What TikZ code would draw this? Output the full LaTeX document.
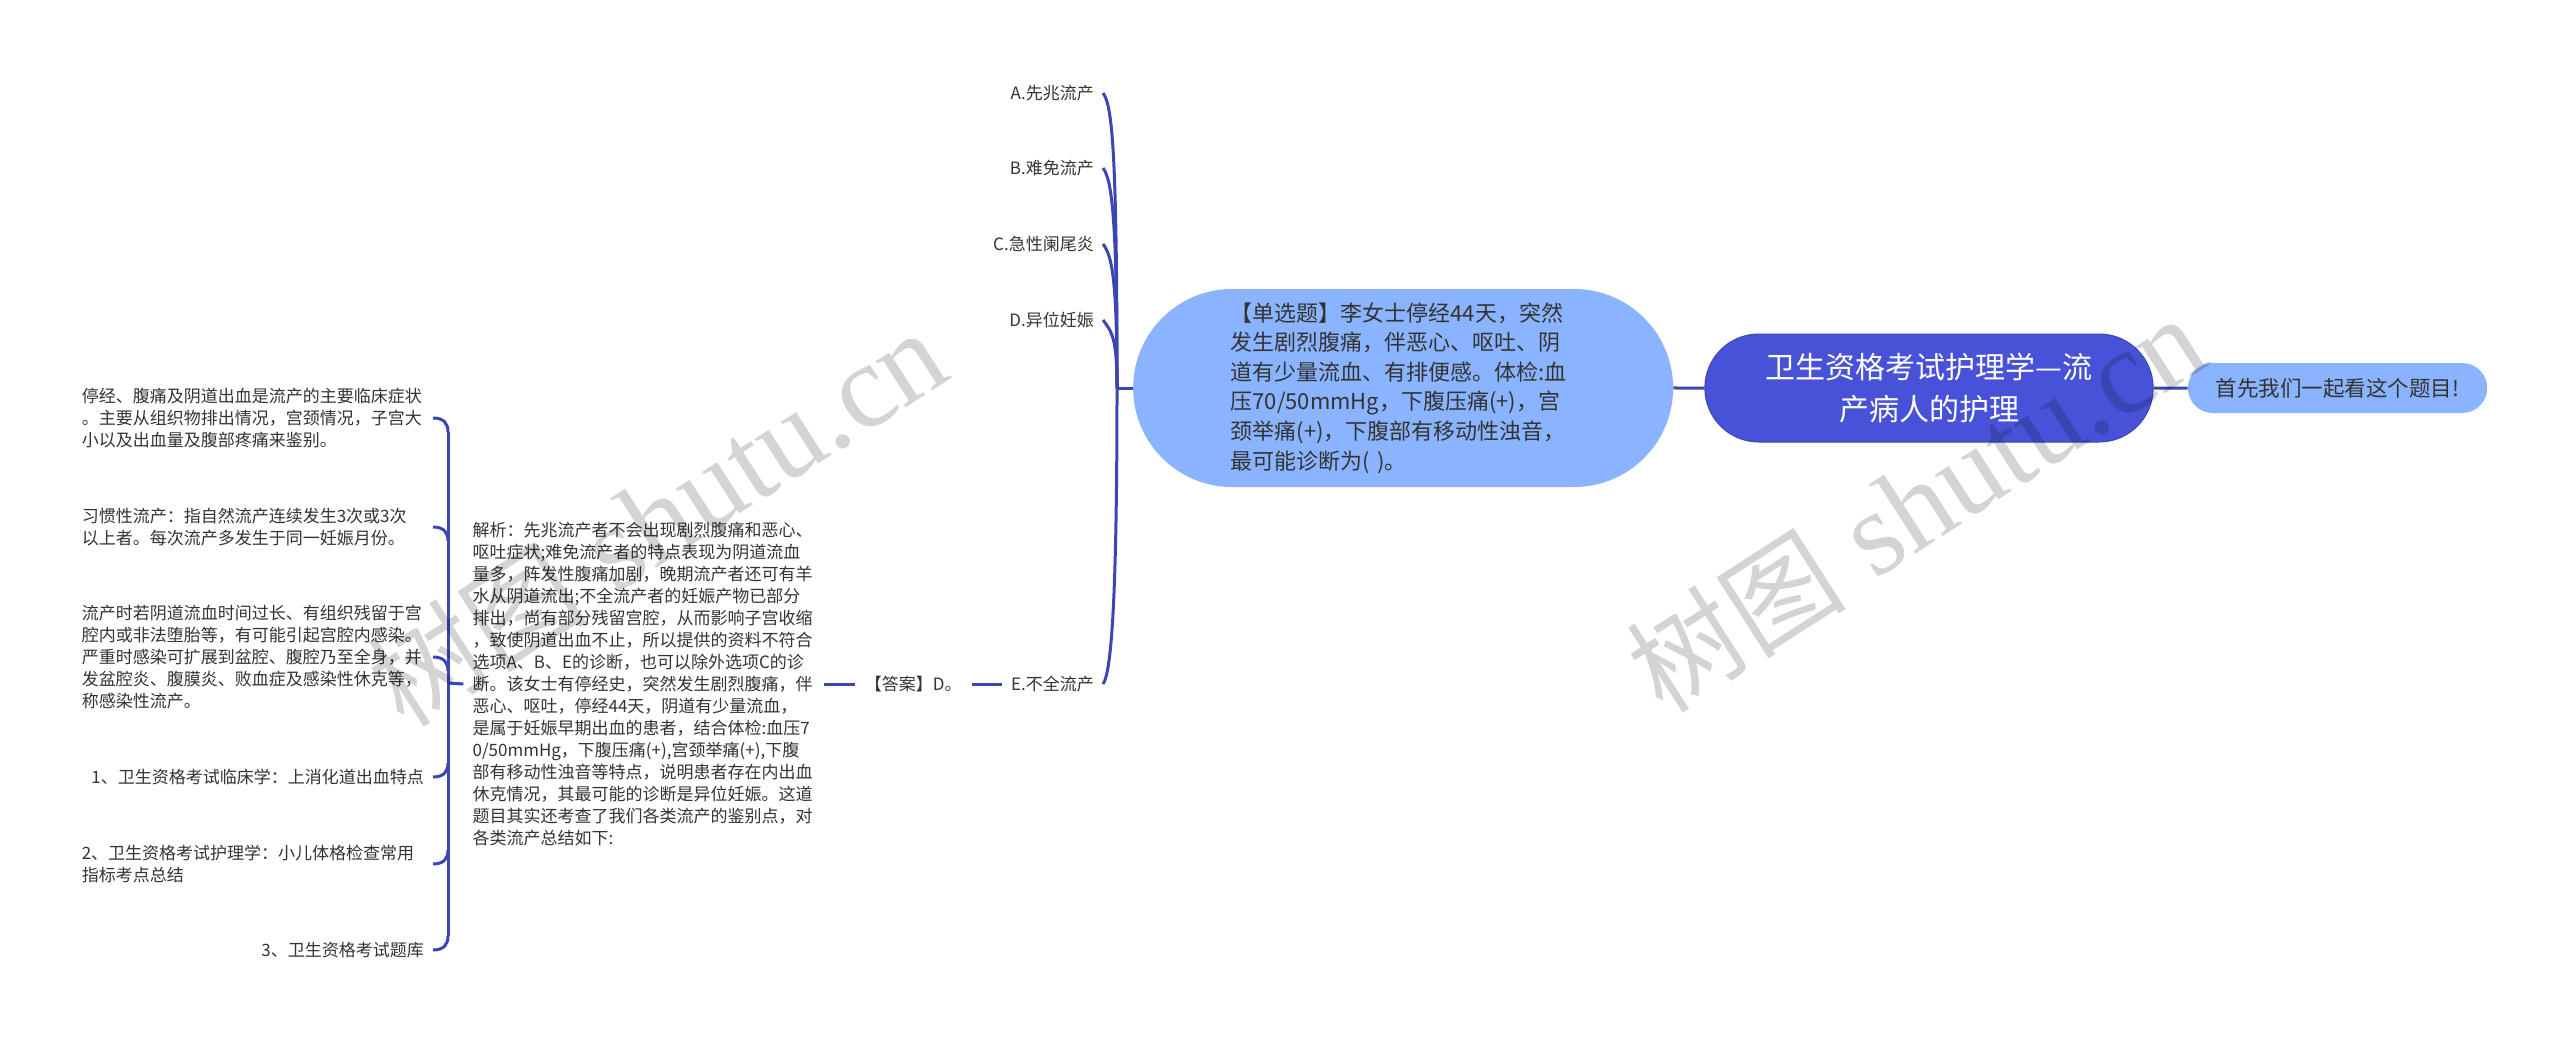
\documentclass[tikz,border=0pt]{standalone}
\usepackage{fontspec}
\setmainfont{Noto Sans CJK SC}
\newfontfamily\markfont{Liberation Serif}
\usetikzlibrary{positioning, calc, shapes.misc}
\definecolor{rootblue}{RGB}{71, 82, 216}
\definecolor{bubbleblue}{RGB}{138, 180, 255}
\definecolor{linkblue}{RGB}{58, 70, 178}
\definecolor{inktext}{RGB}{51, 51, 51}

\begin{document}
\begin{tikzpicture}[
    x=1pt, y=-1pt,
    % 节点样式
    rootbox/.style={
        rounded rectangle, rounded rectangle arc length=180, fill=rootblue, draw=linkblue, line width=1pt,
        minimum width=455pt, minimum height=108pt,
        align=center, text=white, font=\fontsize{30}{42}\selectfont
    },
    tipbox/.style={
        rounded rectangle, rounded rectangle arc length=180, fill=bubbleblue,
        minimum width=306pt, minimum height=50pt,
        align=center, text=inktext, font=\fontsize{21.5}{26}\selectfont
    },
    questionbox/.style={
        rounded rectangle, rounded rectangle arc length=180, fill=bubbleblue,
        minimum width=540pt, minimum height=198pt, inner sep=0pt,
        text width=345pt, align=left, text=inktext, font=\fontsize{22}{29.6}\selectfont
    },
    % 文字节点样式
    leaf/.style={inner xsep=9pt, inner ysep=0pt, text=inktext, font=\fontsize{17}{22}\selectfont},
    note/.style={leaf, anchor=east, align=right},
    widenote/.style={note, text width=342pt, align=left},
    analysis/.style={inner xsep=9pt, inner ysep=0pt, text width=342pt, align=left, text=inktext, font=\fontsize{17}{22}\selectfont},
    % 连线样式
    link/.style={line width=3pt, linkblue},
    watermark/.style={font=\fontsize{120}{120}\markfont, text=black, text opacity=0.17, rotate=32.7},
]
\useasboundingbox (0,0) rectangle (2560,1043);

% ==================== 主干节点 ====================
\node[rootbox] (root) at (1929,388) {卫生资格考试护理学—流\\产病人的护理};
\node[tipbox, right=34pt of root] (tip) {首先我们一起看这个题目!};
\node[questionbox, left=31pt of root] (question) {【单选题】李女士停经44天，突然\\发生剧烈腹痛，伴恶心、呕吐、阴\\道有少量流血、有排便感。体检:血\\压70/50mmHg，下腹压痛(+)，宫\\颈举痛(+)，下腹部有移动性浊音，\\最可能诊断为( )。};

% ==================== 选项 ====================
\node[leaf, anchor=east] (optA) at (1103,93) {A.先兆流产};
\node[leaf, anchor=east] (optB) at (1103,168) {B.难免流产};
\node[leaf, anchor=east] (optC) at (1103,244) {C.急性阑尾炎};
\node[leaf, anchor=east] (optD) at (1103,320) {D.异位妊娠};
\node[leaf, anchor=east] (optE) at (1103,684) {E.不全流产};
\node[leaf, inner xsep=10pt, left=30pt of optE] (answer) {【答案】D。};
\node[analysis, left=31pt of answer] (explain) {解析：先兆流产者不会出现剧烈腹痛和恶心、\\呕吐症状;难免流产者的特点表现为阴道流血\\量多，阵发性腹痛加剧，晚期流产者还可有羊\\水从阴道流出;不全流产者的妊娠产物已部分\\排出，尚有部分残留宫腔，从而影响子宫收缩\\，致使阴道出血不止，所以提供的资料不符合\\选项A、B、E的诊断，也可以除外选项C的诊\\断。该女士有停经史，突然发生剧烈腹痛，伴\\恶心、呕吐，停经44天，阴道有少量流血，\\是属于妊娠早期出血的患者，结合体检:血压7\\0/50mmHg，下腹压痛(+),宫颈举痛(+),下腹\\部有移动性浊音等特点，说明患者存在内出血\\休克情况，其最可能的诊断是异位妊娠。这道\\题目其实还考查了我们各类流产的鉴别点，对\\各类流产总结如下:};

% ==================== 左侧说明 ====================
\node[widenote] (note1) at (433,418) {停经、腹痛及阴道出血是流产的主要临床症状\\。主要从组织物排出情况，宫颈情况，子宫大\\小以及出血量及腹部疼痛来鉴别。};
\node[widenote] (note2) at (433,527) {习惯性流产：指自然流产连续发生3次或3次\\以上者。每次流产多发生于同一妊娠月份。};
\node[widenote] (note3) at (433,657) {流产时若阴道流血时间过长、有组织残留于宫\\腔内或非法堕胎等，有可能引起宫腔内感染。\\严重时感染可扩展到盆腔、腹腔乃至全身，并\\发盆腔炎、腹膜炎、败血症及感染性休克等，\\称感染性流产。};
\node[note] (note4) at (433,777) {1、卫生资格考试临床学：上消化道出血特点};
\node[widenote] (note5) at (433,864) {2、卫生资格考试护理学：小儿体格检查常用\\指标考点总结};
\node[note] (note6) at (433,950) {3、卫生资格考试题库};

\coordinate (hub) at (1117,388);
\coordinate (spine) at (448,683);

% ==================== 连线 ====================
\draw[link] (root) -- (tip);
\draw[link] (question) -- (root);
\draw[link] (hub) -- (question.west);
\foreach \n/\h in {optA/240, optB/170, optC/110, optD/50}
    \draw[link] (\n.east) .. controls +(9,12) and +(0,-\h) .. (hub);
\draw[link] (optE.east) .. controls +(9,-12) and +(0,200) .. (hub);
\draw[link] (answer) -- (optE);
\draw[link] (explain) -- (answer);

% 左侧括号
\draw[link] (spine) -- (explain.west);
\draw[link] ($(note1.east -| spine)+(0,14)$) -- ($(note6.east -| spine)+(0,-14)$);
\foreach \n/\d in {note1/14, note2/14, note3/14, note4/-14, note5/-14, note6/-14}
    \draw[link] (\n.east) .. controls +(11,0) and +(0,-0.6*\d) .. ($(\n.east -| spine)+(0,\d)$);

% ==================== 水印 ====================
\node[watermark] (markleft) at (657,518) {{\fontspec{Noto Sans CJK SC}\fontsize{110}{120}\selectfont 树图} shutu.cn};
\node[watermark] (markright) at (1916,504) {{\fontspec{Noto Sans CJK SC}\fontsize{110}{120}\selectfont 树图} shutu.cn};

\end{tikzpicture}
\end{document}
